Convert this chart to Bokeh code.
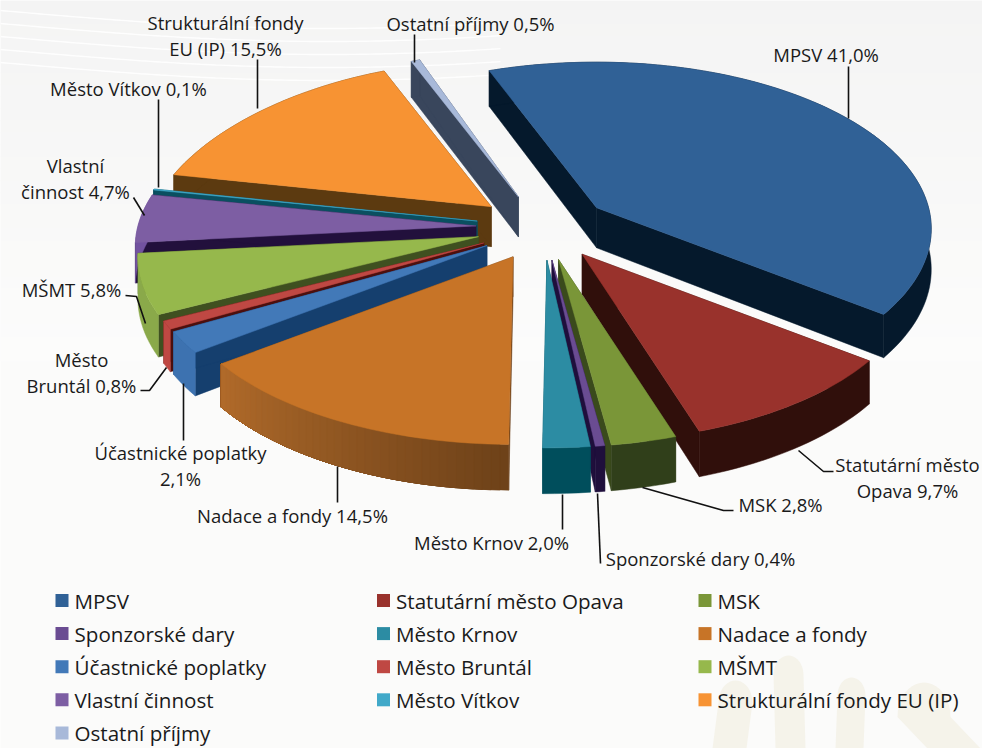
import math
from bokeh.plotting import figure
from bokeh.models import Range1d
from bokeh.core.properties import value
from bokeh.embed import file_html
from bokeh.resources import INLINE

categories = ["MPSV", "Statutární město Opava", "MSK", "Sponzorské dary", "Město Krnov",
              "Nadace a fondy", "Účastnické poplatky", "Město Bruntál", "MŠMT",
              "Vlastní činnost", "Město Vítkov", "Strukturální fondy EU (IP)", "Ostatní příjmy"]
shares = [41.0, 9.7, 2.8, 0.4, 2.0, 14.5, 2.1, 0.8, 5.8, 4.7, 0.1, 15.5, 0.5]
top_colors = ["#306196", "#99322c", "#7a9638", "#6a4c92", "#2c8ca3", "#c77427", "#4279b8",
              "#bf4843", "#96b84c", "#7d5ea3", "#41a9c9", "#f79333", "#a8b9d9"]
radial_colors = ["#05192c", "#300f0b", "#3a4a1c", "#1f0f3c", "#004e5c", "#6a3f18", "#153f6e",
                 "#4c0f0d", "#3f5020", "#22103c", "#0a4f60", "#5c3a10", "#39465c"]
rim_colors = ["#05192c", "#300f0b", "#303f1a", "#1f0f3c", "#004e5c", "#a8632a", "#3d72b0",
              "#bf4843", "#8aa94a", "#7252a0", "#0a4f60", "#5c3a10", "#39465c"]
label_text = ["MPSV  41,0%", "Statutární město\nOpava 9,7%", "MSK 2,8%", "Sponzorské dary 0,4%",
              "Město Krnov 2,0%", "Nadace a fondy 14,5%", "Účastnické poplatky\n2,1%",
              "Město\nBruntál 0,8%", "MŠMT 5,8%", "Vlastní\nčinnost 4,7%", "Město Vítkov 0,1%",
              "Strukturální fondy\nEU (IP) 15,5%", "Ostatní příjmy 0,5%"]

# layout of the pie, in page pixels
CX, CY = 543, 227
RX_LEFT, RX_RIGHT, RY = 338, 332, 164
PERSP = 0.126
BACK_LEFT_NARROW = 0.085
EXPLODE = 0.2
DEPTH = 40
START = -20.8
PAINT = [12, 11, 10, 9, 8, 7, 6, 5, 0, 1, 2, 3, 4]   # back to front

label_pos = [(828, 54), (907, 464), (780, 504), (700, 558), (491, 542), (292, 515), (180, 452),
             (81, 359), (71, 289), (75, 165), (128, 88), (225, 22), (470, 23)]
leaders = [[(848, 66), (848, 118)], [(798, 450), (823, 471), (833, 471)],
           [(642, 487), (723, 510), (733, 510)], [(597, 493), (600, 563)],
           [(562, 494), (562, 529)], [(337, 466), (337, 502)], [(183, 383), (183, 440)],
           [(140, 390), (149, 390), (166, 367)], [(125, 295), (136, 296), (145, 323)],
           [(133, 197), (144, 215)], [(158, 99), (158, 187)], [(257, 59), (257, 108)],
           [(414, 34), (414, 62)]]

def rx(u):
    return RX_LEFT if u < 0 else RX_RIGHT

def project(theta_deg, ax, ay, narrow=0.0):
    t = math.radians(theta_deg)
    u, v = math.sin(t), -math.cos(t)
    w = 1 - PERSP * v
    return ax + rx(u) * u * (1 + narrow * v) / w, ay + RY * v / w, DEPTH / w

def mix(a, b, f):
    ca = [int(a[i:i + 2], 16) for i in (1, 3, 5)]
    cb = [int(b[i:i + 2], 16) for i in (1, 3, 5)]
    return "#%02x%02x%02x" % tuple(round(x + (y - x) * f) for x, y in zip(ca, cb))

total = sum(shares)
spans, a = [], START
for s in shares:
    step = s / total * 360
    spans.append((a, a + step))
    a += step

xs, ys, fills = [], [], []
def add(poly, col):
    xs.append([q[0] for q in poly])
    ys.append([q[1] for q in poly])
    fills.append(col)

for i in PAINT:
    a0, a1 = spans[i]
    mid_deg = (a0 + a1) / 2
    mid = math.radians(mid_deg)
    narrow = BACK_LEFT_NARROW if mid_deg > 300 else 0.0
    ax = CX + EXPLODE * rx(math.sin(mid)) * math.sin(mid)
    ay = CY - EXPLODE * RY * math.cos(mid)
    n = max(2, int((a1 - a0) / 1.5))
    arc = [project(a0 + (a1 - a0) * k / n, ax, ay, narrow) for k in range(n + 1)]
    for e in (arc[0], arc[-1]):
        add([(ax, ay), (e[0], e[1]), (e[0], e[1] + e[2]), (ax, ay + DEPTH)], radial_colors[i])
    if categories[i] == "Nadace a fondy":
        # stepped shading, each step overlapping the next so no seams show
        steps = 40
        for k in range(steps):
            lo = a0 + (a1 - a0) * k / steps
            part = [project(lo + (a1 - lo) * m / 12, ax, ay) for m in range(13)]
            add([(q[0], q[1]) for q in part] + [(q[0], q[1] + q[2]) for q in reversed(part)],
                mix("#6e4219", "#b06a2a", k / (steps - 1)))
    else:
        add([(q[0], q[1]) for q in arc] + [(q[0], q[1] + q[2]) for q in reversed(arc)], rim_colors[i])
    add([(ax, ay)] + [(q[0], q[1]) for q in arc], top_colors[i])

W, H = 982, 748
p = figure(width=W, height=H, output_backend="svg", toolbar_location=None,
           x_range=Range1d(0, W), y_range=Range1d(H, 0), min_border=0,
           background_fill_color="#fbfbfa", border_fill_color="#fbfbfa", outline_line_color=None)
p.axis.visible = False
p.grid.visible = False

# faint page background: grey wash with white swirl lines, hand watermark lower right
bands = 30
p.quad(left=0, right=W, top=[k * 12 for k in range(bands)], bottom=[(k + 1) * 12 + 1 for k in range(bands)],
       fill_color=[mix("#f4f4f4", "#fcfcfb", k / (bands - 1)) for k in range(bands)], line_color=None)
for k in range(5):
    sx = [t * 5.0 for t in range(101)]
    sy = [10 + k * 13 + 18 * math.sin(t / 100 * 2.4) for t in range(101)]
    p.line(sx, sy, line_color="#ffffff", line_width=1.4, line_alpha=0.9)
def finger(x0, x1, top, lean):
    cx, hw = (x0 + x1) / 2, (x1 - x0) / 2
    arcx = [cx - hw * math.cos(math.pi * t / 20) for t in range(21)]
    arcy = [top + hw * 1.3 - hw * 1.3 * math.sin(math.pi * t / 20) for t in range(21)]
    return [x0 - lean] + arcx + [x1 - lean], [H] + arcy + [H]
wm = [finger(718, 752, 680, 6), finger(773, 803, 655, -2), finger(837, 865, 677, 2), finger(897, 950, 682, -30)]
p.patches([f[0] for f in wm], [f[1] for f in wm], fill_color="#f5f3ea", line_color=None)

p.patches(xs, ys, fill_color=fills, line_color=fills, line_width=0.5)

for seg in leaders:
    p.line([q[0] for q in seg], [q[1] for q in seg], line_color="#111111", line_width=1.6)

FONT = "Open Sans"
tx, ty, tt = [], [], []
for txt, (lx, ly) in zip(label_text, label_pos):
    for j, line in enumerate(txt.split("\n")):
        tx.append(lx); ty.append(ly + j * 26); tt.append(line)
p.text(tx, ty, text=tt, text_font=value(FONT), text_font_size="18.5px", text_color="#1a1a1a",
       text_align="center", text_baseline="middle")

# legend
COLS = [55, 376.5, 698]
ROW0, ROWH = 600, 33.1
lx = [COLS[k % 3] for k in range(len(categories))]
ly = [ROW0 + (k // 3) * ROWH for k in range(len(categories))]
p.scatter([x + 6.5 for x in lx], ly, marker="square", size=13, fill_color=top_colors, line_color=None)
p.text([x + 19 for x in lx], ly, text=categories, text_font=value(FONT), text_font_size="20.6px",
       text_color="#1a1a1a", text_align="left", text_baseline="middle")

open("out.html", "w").write(file_html(p, INLINE))
